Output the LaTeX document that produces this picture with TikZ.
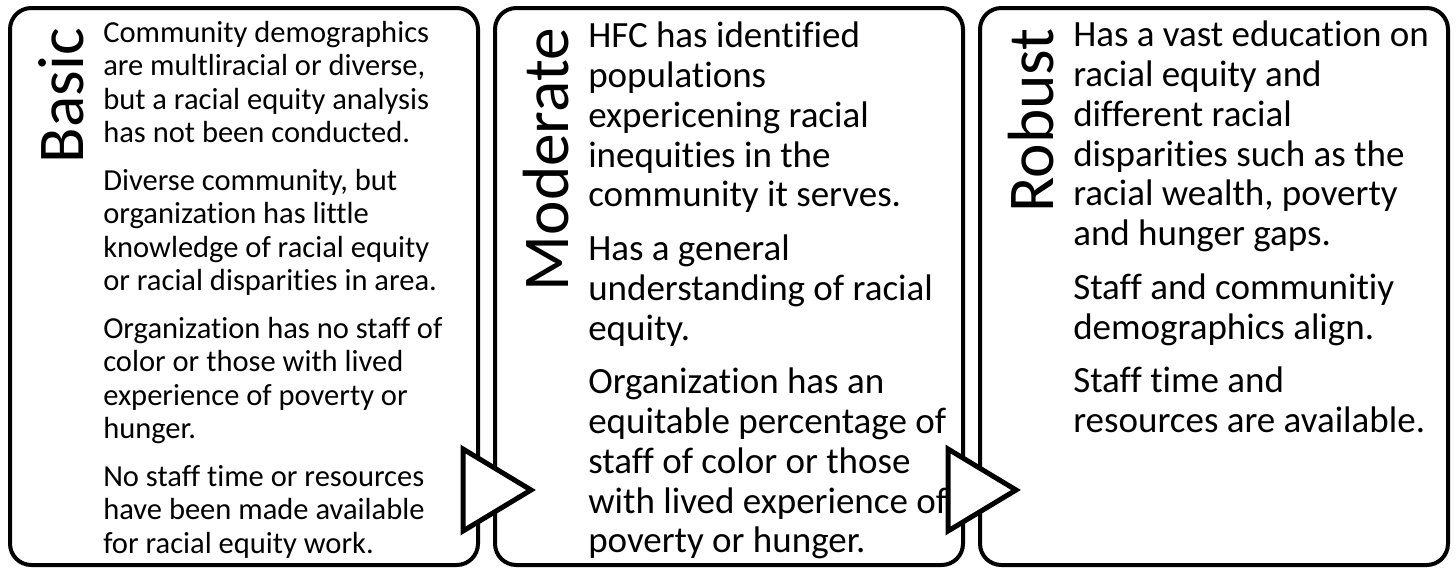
\documentclass[tikz,border=0pt]{standalone}
\usepackage{fontspec}
\setmainfont{Carlito}[Ligatures=NoCommon]
\usetikzlibrary{calc}

\tikzset{
  stagebox/.style={draw,line width=3pt,rounded corners=16pt,inner sep=0pt,outer sep=0pt,
                   minimum width=351pt,minimum height=417.75pt,anchor=north west},
  stagetitle/.style={rotate=90,anchor=base east,inner sep=0pt,font=\fontsize{49}{49}\selectfont},
  stagetext/.style={anchor=north west,inner sep=0pt,align=left},
  stagearrow/.style={draw,fill=white,line width=3.75pt,line join=miter}
}

\begin{document}
\begin{tikzpicture}[x=0.75pt,y=-0.75pt]
    \useasboundingbox (0,0) rectangle (1456,569); % same frame as the reference
    \pgfmathsetmacro{\gap}{10.5} % space between two statements (pt)

    % the three stages
    \node[stagebox] (basic) at (10,8) {};
    \node[stagebox] (moderate) at (495,8) {};
    \node[stagebox] (robust) at (980,8) {};

    % titles, written upwards
    \node[stagetitle] (basictitle) at ($(basic.north west)+(73,20)$) {Basic};
    \node[stagetitle] (moderatetitle) at ($(moderate.north west)+(73,20)$) {Moderate};
    \node[stagetitle] (robusttitle) at ($(robust.north west)+(73,20)$) {Robust};

    % statements of each stage
    \node[stagetext,font=\fontsize{22.9}{25.1}\selectfont] (basictext)
      at ($(basic.north west)+(93,13)$) {%
      Community demographics\\ are multliracial or diverse,\\
      but a racial equity analysis\\ has not been conducted.\\[\gap pt]
      Diverse community, but\\ organization has little\\
      knowledge of racial equity\\ or racial disparities in area.\\[\gap pt]
      Organization has no staff of\\ color or those with lived\\
      experience of poverty or\\ hunger.\\[\gap pt]
      No staff time or resources\\ have been made available\\
      for racial equity work.};
    \node[stagetext,font=\fontsize{27.75}{29.8}\selectfont] (moderatetext)
      at ($(moderate.north west)+(93,14)$) {%
      HFC has identified\\ populations\\ expericening racial\\
      inequities in the\\ community it serves.\\[\gap pt]
      Has a general\\ understanding of racial\\ equity.\\[\gap pt]
      Organization has an\\ equitable percentage of\\
      staff of color or those\\ with lived experience of\\
      poverty or hunger.};
    \node[stagetext,font=\fontsize{27.75}{29.8}\selectfont] (robusttext)
      at ($(robust.north west)+(93,13)$) {%
      Has a vast education on\\ racial equity and\\ different racial\\
      disparities such as the\\ racial wealth, poverty\\ and hunger gaps.\\[\gap pt]
      Staff and communitiy\\ demographics align.\\[\gap pt]
      Staff time and\\ resources are available.};

    % arrows from one stage to the next
    \draw[stagearrow] ($(basic.south east)+(-15,-116)$) -- ($(basic.south east)+(53,-75)$)
                      -- ($(basic.south east)+(-15,-34)$) -- cycle; % basic -> moderate
    \draw[stagearrow] ($(moderate.south east)+(-15,-116)$) -- ($(moderate.south east)+(53,-75)$)
                      -- ($(moderate.south east)+(-15,-34)$) -- cycle; % moderate -> robust
\end{tikzpicture}
\end{document}
